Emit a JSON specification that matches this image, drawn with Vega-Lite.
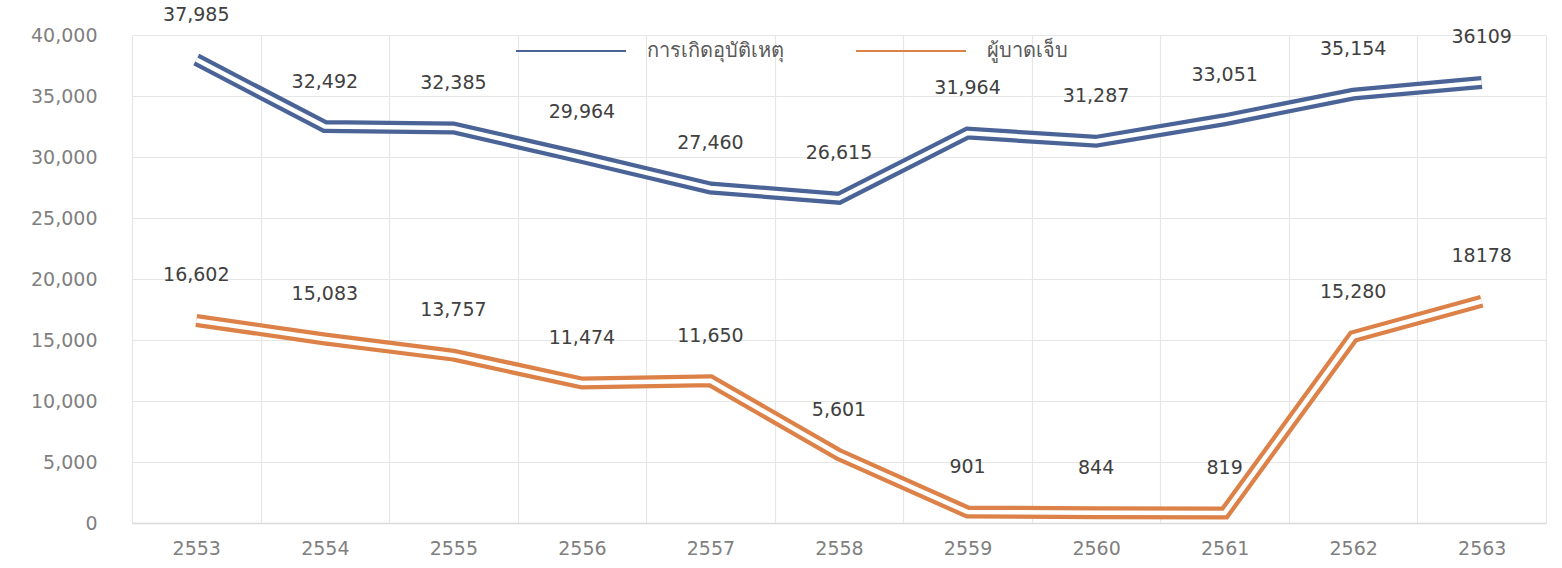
{
  "$schema": "https://vega.github.io/schema/vega-lite/v6.json",
  "autosize": {"type": "none"},
  "padding": {"left": 132, "top": 35, "right": 16, "bottom": 45},
  "width": 1414,
  "height": 488,
  "background": "white",
  "config": {
    "view": {"stroke": null},
    "font": "Noto Sans",
    "axis": {"labelFont": "DejaVu Sans", "labelFontSize": 19, "labelColor": "#7f7f7f", "gridColor": "#e6e6e6", "gridWidth": 1.2, "ticks": false, "title": null},
    "legend": {"labelFont": "Noto Sans", "labelFontSize": 20, "labelColor": "#595959"}
  },
  "data": {
    "values": [
      {"year": "2553", "series": "การเกิดอุบัติเหตุ", "value": 37985, "label": "37,985"},
      {"year": "2554", "series": "การเกิดอุบัติเหตุ", "value": 32492, "label": "32,492"},
      {"year": "2555", "series": "การเกิดอุบัติเหตุ", "value": 32385, "label": "32,385"},
      {"year": "2556", "series": "การเกิดอุบัติเหตุ", "value": 29964, "label": "29,964"},
      {"year": "2557", "series": "การเกิดอุบัติเหตุ", "value": 27460, "label": "27,460"},
      {"year": "2558", "series": "การเกิดอุบัติเหตุ", "value": 26615, "label": "26,615"},
      {"year": "2559", "series": "การเกิดอุบัติเหตุ", "value": 31964, "label": "31,964"},
      {"year": "2560", "series": "การเกิดอุบัติเหตุ", "value": 31287, "label": "31,287"},
      {"year": "2561", "series": "การเกิดอุบัติเหตุ", "value": 33051, "label": "33,051"},
      {"year": "2562", "series": "การเกิดอุบัติเหตุ", "value": 35154, "label": "35,154"},
      {"year": "2563", "series": "การเกิดอุบัติเหตุ", "value": 36109, "label": "36109"},
      {"year": "2553", "series": "ผู้บาดเจ็บ", "value": 16602, "label": "16,602"},
      {"year": "2554", "series": "ผู้บาดเจ็บ", "value": 15083, "label": "15,083"},
      {"year": "2555", "series": "ผู้บาดเจ็บ", "value": 13757, "label": "13,757"},
      {"year": "2556", "series": "ผู้บาดเจ็บ", "value": 11474, "label": "11,474"},
      {"year": "2557", "series": "ผู้บาดเจ็บ", "value": 11650, "label": "11,650"},
      {"year": "2558", "series": "ผู้บาดเจ็บ", "value": 5601, "label": "5,601"},
      {"year": "2559", "series": "ผู้บาดเจ็บ", "value": 901, "label": "901"},
      {"year": "2560", "series": "ผู้บาดเจ็บ", "value": 844, "label": "844"},
      {"year": "2561", "series": "ผู้บาดเจ็บ", "value": 819, "label": "819"},
      {"year": "2562", "series": "ผู้บาดเจ็บ", "value": 15280, "label": "15,280"},
      {"year": "2563", "series": "ผู้บาดเจ็บ", "value": 18178, "label": "18178"}
    ]
  },
  "encoding": {
    "x": {
      "field": "year", "type": "ordinal",
      "scale": {"type": "band", "paddingInner": 0, "paddingOuter": 0},
      "axis": {"labelAngle": 0, "tickBand": "extent", "grid": true, "domainColor": "#d9d9d9", "domainWidth": 1.5, "labelPadding": 16}
    },
    "y": {
      "field": "value", "type": "quantitative",
      "scale": {"domain": [0, 40000], "nice": false},
      "axis": {"values": [0, 5000, 10000, 15000, 20000, 25000, 30000, 35000, 40000], "format": ",.0f", "domain": false, "labelPadding": 35}
    }
  },
  "layer": [
    {
      "mark": {"type": "line", "strokeWidth": 13, "strokeJoin": "miter"},
      "encoding": {
        "color": {
          "field": "series", "type": "nominal",
          "scale": {"domain": ["การเกิดอุบัติเหตุ", "ผู้บาดเจ็บ"], "range": ["#4b6497", "#dc8147"]},
          "sort": null,
          "legend": {
            "title": null, "orient": "none", "direction": "horizontal",
            "legendX": 383, "legendY": -40, "padding": 0,
            "symbolType": "stroke", "symbolSize": 12100, "symbolStrokeWidth": 2,
            "labelOffset": 20, "columnPadding": 68
          }
        }
      }
    },
    {
      "mark": {"type": "line", "strokeWidth": 4.5, "color": "white", "strokeJoin": "miter"},
      "encoding": {"detail": {"field": "series", "type": "nominal"}}
    },
    {
      "mark": {"type": "text", "dy": -45, "baseline": "middle", "align": "center", "font": "DejaVu Sans", "fontSize": 19, "color": "#404040"},
      "encoding": {"text": {"field": "label", "type": "nominal"}}
    }
  ]
}
